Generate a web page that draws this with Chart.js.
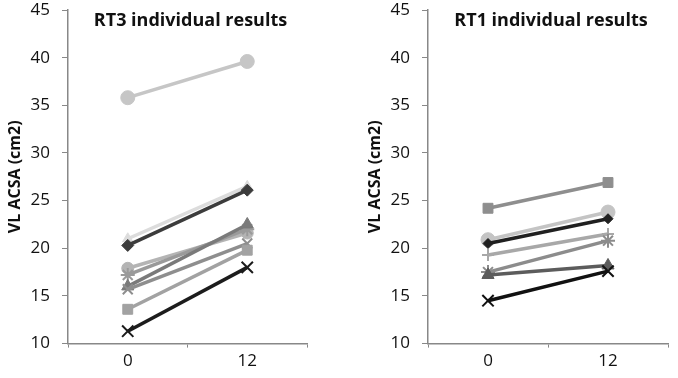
<!DOCTYPE html>
<html>
<head>
<meta charset="utf-8">
<script src="https://cdn.jsdelivr.net/npm/chart.js@4.4.1/dist/chart.umd.min.js"></script>
<style>
  html, body { margin: 0; padding: 0; background: #fff; }
  #wrap { position: relative; width: 678px; height: 378px; }
  canvas { position: absolute; top: 0; }
</style>
</head>
<body>
<div id="wrap">
  <canvas id="rt3Chart" width="360" height="378" style="left:0"></canvas>
  <canvas id="rt1Chart" width="318" height="378" style="left:360px"></canvas>
</div>
<script>
// weeks of training
const weeks = ['0', '12'];
const yTicks = [10, 15, 20, 25, 30, 35, 40, 45];

// RT3 group, one entry per subject (week 0, week 12)
const rt3Week0 = [35.8, 21.0, 20.3, 17.9, 17.2, 16.0, 15.7, 13.6, 11.3];
const rt3Week12 = [39.6, 26.5, 26.1, 21.6, 22.0, 22.5, 20.5, 19.8, 18.0];

// RT1 group
const rt1Week0 = [24.2, 20.9, 20.5, 19.3, 17.5, 17.2, 14.5];
const rt1Week12 = [26.9, 23.8, 23.1, 21.5, 20.8, 18.2, 17.6];

// marker styles (same order as the values)
const rt3Styles = [
  { color: '#c6c6c6', point: 'circle', r: 7 },
  { color: '#dcdcdc', point: 'triangle', r: 6 },
  { color: '#3c3c3c', point: 'rectRot', r: 6 },
  { color: '#b4b4b4', point: 'circle', r: 6 },
  { color: '#9a9a9a', point: 'star', r: 7 },
  { color: '#7a7a7a', point: 'triangle', r: 7 },
  { color: '#8e8e8e', point: 'crossRot', r: 7 },
  { color: '#a2a2a2', point: 'rect', r: 7 },
  { color: '#1c1c1c', point: 'crossRot', r: 8 }
];
const rt1Styles = [
  { color: '#8e8e8e', point: 'rect', r: 7 },
  { color: '#c4c4c4', point: 'circle', r: 7 },
  { color: '#202020', point: 'rectRot', r: 5 },
  { color: '#a8a8a8', point: 'cross', r: 6 },
  { color: '#8c8c8c', point: 'star', r: 7 },
  { color: '#5c5c5c', point: 'triangle', r: 7 },
  { color: '#111111', point: 'crossRot', r: 8 }
];

const FONT = "'Open Sans', 'DejaVu Sans', sans-serif";

// panel title sits inside the plot area, above the data
const panelTitle = {
  id: 'panelTitle',
  afterDraw(chart, args, opts) {
    const { ctx, chartArea } = chart;
    ctx.save();
    ctx.font = `bold 18px ${FONT}`;
    ctx.fillStyle = '#111';
    ctx.textAlign = 'center';
    ctx.textBaseline = 'middle';
    ctx.fillText(opts.text, (chartArea.left + chartArea.right) / 2 + 3, 21);
    ctx.restore();
  }
};

function buildChart(canvasId, title, start, end, styles, padRight) {
  const datasets = start.map((v, i) => ({
    label: 'subject ' + (i + 1),
    data: [v, end[i]],
    borderColor: styles[i].color,
    backgroundColor: styles[i].color,
    pointBorderColor: styles[i].color,
    pointBackgroundColor: styles[i].color,
    pointStyle: styles[i].point,
    pointRadius: styles[i].r,
    pointBorderWidth: styles[i].point.startsWith('cross') || styles[i].point === 'star' ? 2 : 1,
    borderWidth: 3.5,
    fill: false,
    tension: 0
  }));
  // dark lines should sit on top like in the original
  datasets.reverse();

  return new Chart(document.getElementById(canvasId), {
    type: 'line',
    data: { labels: weeks, datasets },
    options: {
      responsive: false,
      animation: false,
      devicePixelRatio: 1,
      layout: { padding: { top: 10, right: padRight, bottom: 4, left: 0 } },
      plugins: {
        legend: { display: false },
        tooltip: { enabled: false },
        title: { display: false },
        panelTitle: { text: title }
      },
      scales: {
        x: {
          type: 'category',
          offset: true,
          grid: { offset: true, drawOnChartArea: false, drawTicks: true, tickLength: 4, color: '#888' },
          border: { display: true, color: '#888', width: 1.5 },
          ticks: { color: '#111', font: { family: FONT, size: 17 }, padding: 3 }
        },
        y: {
          min: yTicks[0],
          max: yTicks[yTicks.length - 1],
          afterBuildTicks: (scale) => { scale.ticks = yTicks.map(v => ({ value: v })); },
          afterFit: (scale) => {
            scale.width = 68;
            scale.paddingTop = 0; // let layout.padding decide where 45 sits
          },
          grid: { drawOnChartArea: false, drawTicks: true, tickLength: 6, color: '#888' },
          border: { display: true, color: '#888', width: 1.5 },
          ticks: { color: '#111', font: { family: FONT, size: 17 }, padding: 12 },
          title: {
            display: true,
            text: 'VL ACSA (cm2)',
            color: '#111',
            font: { family: FONT, size: 16, weight: 'bold' },
            padding: { top: 6, bottom: 0 }
          }
        }
      }
    },
    plugins: [panelTitle]
  });
}

buildChart('rt3Chart', 'RT3 individual results', rt3Week0, rt3Week12, rt3Styles, 53);
buildChart('rt1Chart', 'RT1 individual results', rt1Week0, rt1Week12, rt1Styles, 2);
</script>
</body>
</html>
